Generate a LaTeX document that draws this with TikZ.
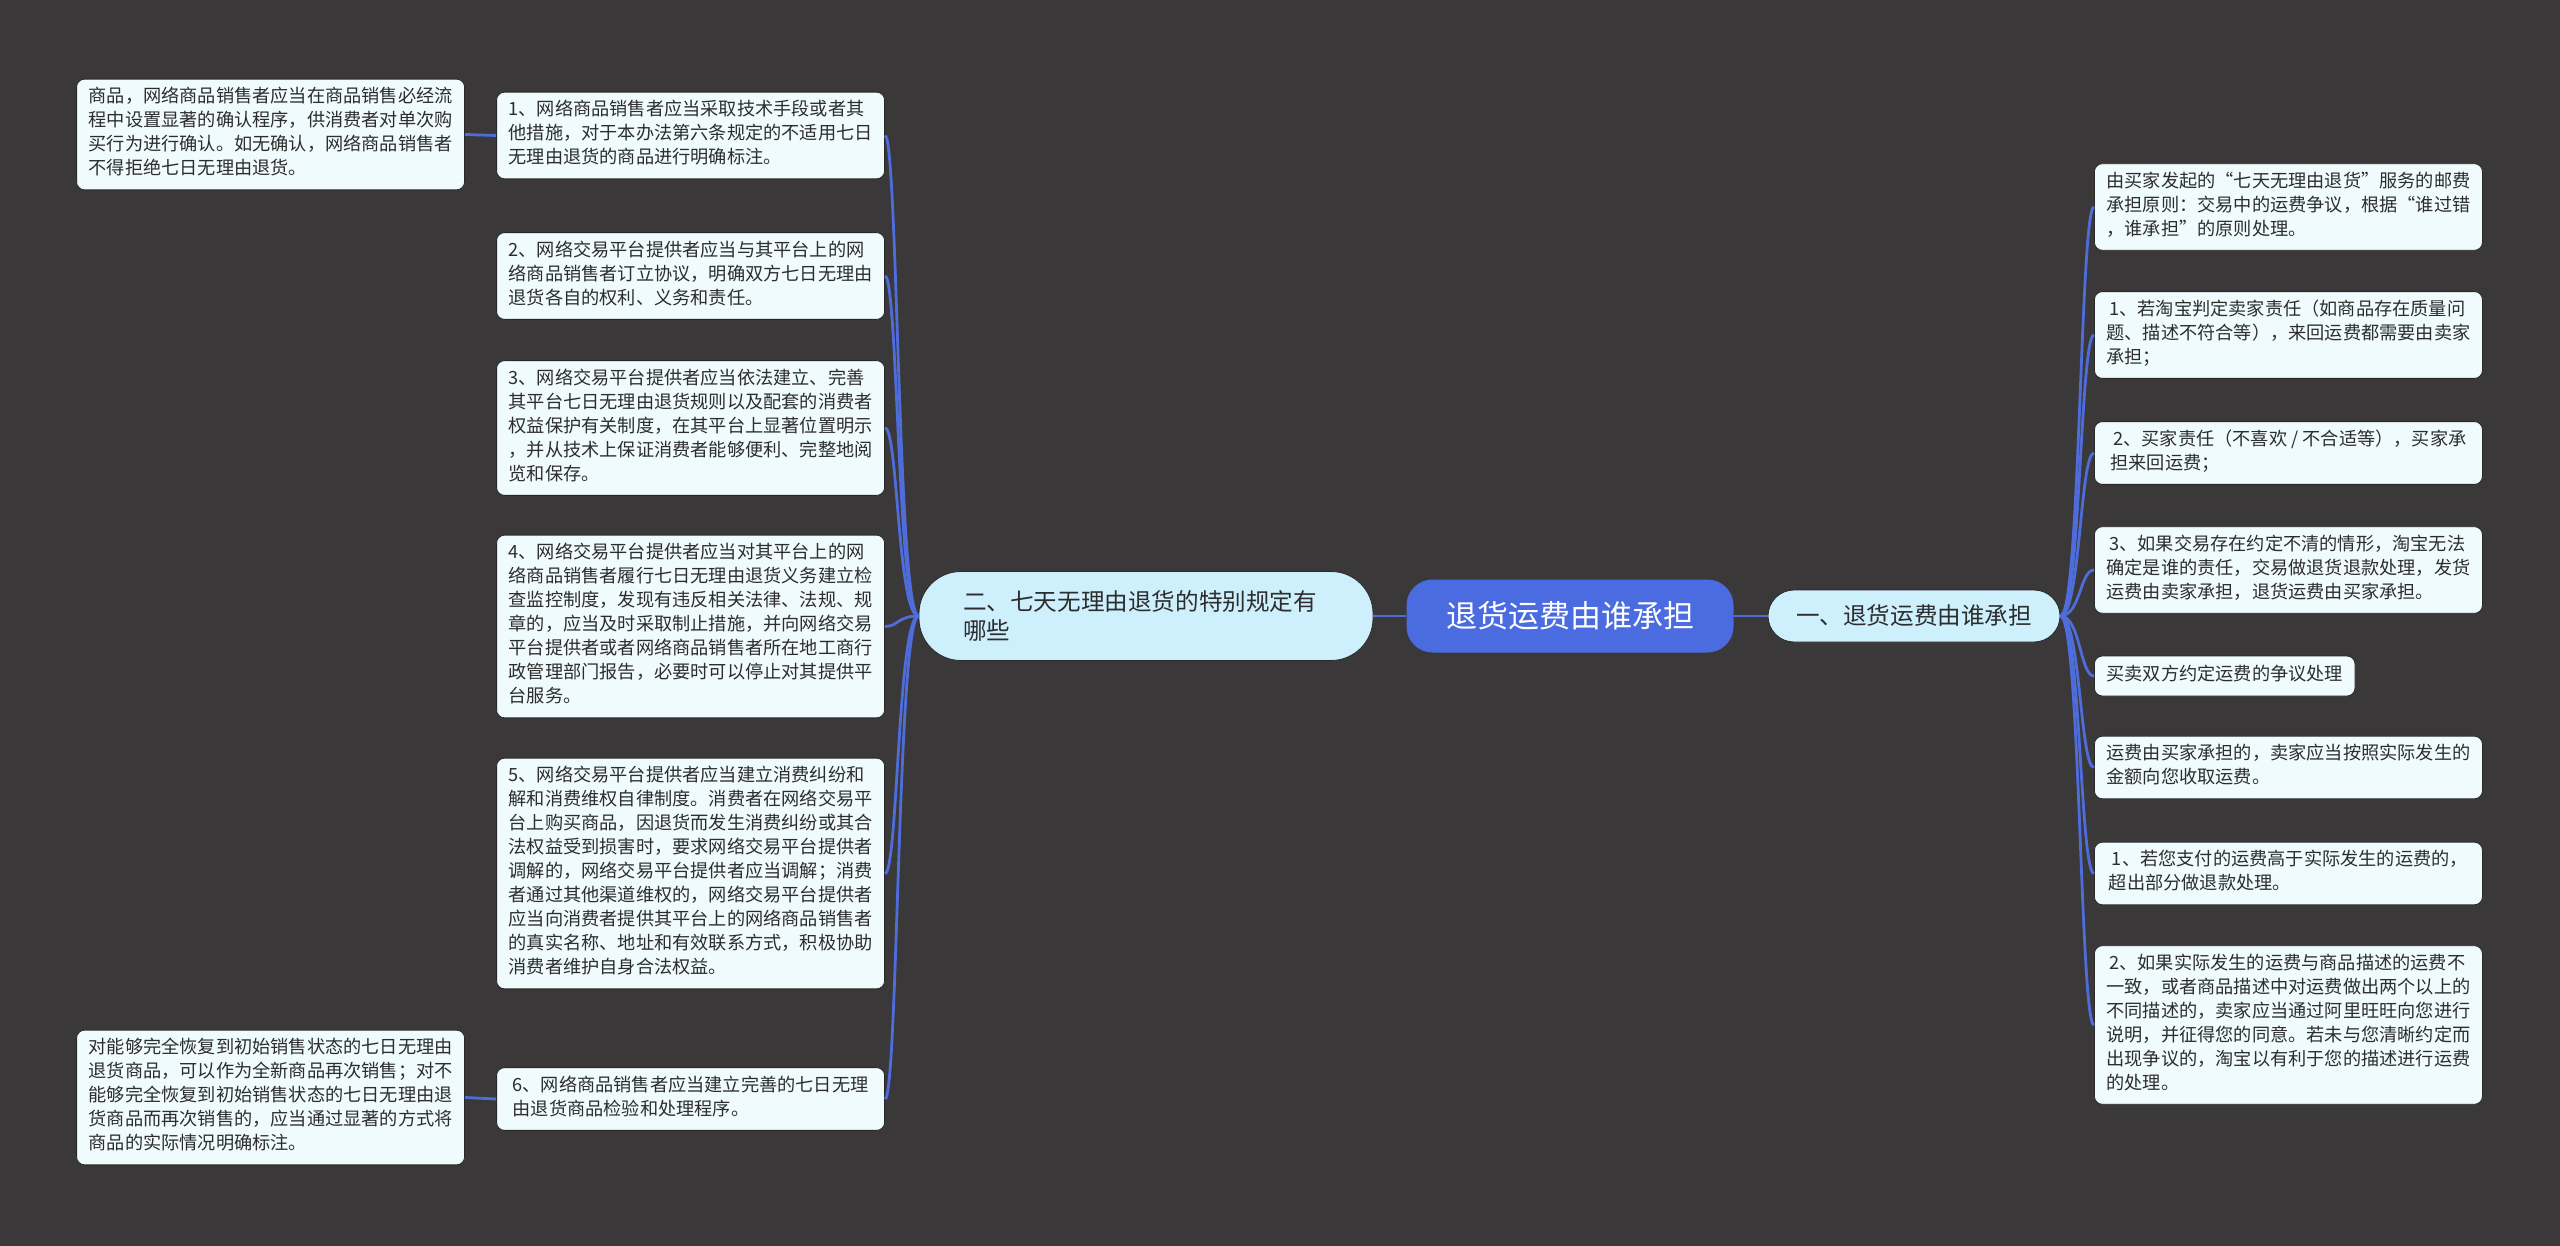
\documentclass[tikz,border=0pt]{standalone}
\usepackage{fontspec}
\newfontfamily\cjk{Noto Sans CJK SC}
\usepackage{tikz}
\definecolor{bgdark}{RGB}{58,56,57}
\definecolor{linkblue}{RGB}{78,108,218}
\definecolor{rootblue}{RGB}{75,107,224}
\definecolor{branchfill}{RGB}{206,239,252}
\definecolor{leaffill}{RGB}{240,251,254}
\definecolor{leafedge}{RGB}{40,40,40}
\definecolor{inktext}{RGB}{45,45,45}

\begin{document}
\begin{tikzpicture}[x=0.5pt, y=-0.5pt,
  link/.style={draw=linkblue, line width=1.4pt},
  leaf/.style={draw=leafedge, line width=0.4pt, fill=leaffill, text=inktext,
    rounded corners=4pt, align=left, minimum width=194pt, inner xsep=6pt, inner ysep=4pt,
    font=\cjk\fontsize{9.1pt}{12pt}\selectfont,
    execute at begin node=\strut, execute at end node=\strut},
  branch/.style={draw=leafedge, line width=0.4pt, fill=branchfill, text=inktext,
    font=\cjk\fontsize{11.8pt}{14.5pt}\selectfont},
  rootbox/.style={fill=rootblue, text=white, rounded corners=13pt,
    minimum width=163.5pt, minimum height=36.5pt,
    font=\cjk\fontsize{15.5pt}{18pt}\selectfont}]
  \fill[bgdark] (0,0) rectangle (2560,1246);
  \useasboundingbox (0,0) rectangle (2560,1246);

  % centre
  \node[rootbox] (root) at (1570,616) {退货运费由谁承担};
  \node[branch, rounded corners=21pt, text width=183pt, align=left, inner xsep=22pt,
    minimum height=44.5pt] (b2) at (1146,616) {二、七天无理由退货的特别规定有\\哪些};
  \node[branch, rounded corners=13pt, minimum width=146pt, minimum height=26pt] (b1)
    at (1914,616) {一、退货运费由谁承担};
  \draw[link] (root.west) -- (b2.east);
  \draw[link] (root.east) -- (b1.west);

  % left side
  \node[leaf, anchor=east] (n1) at (885,135.5) {1、网络商品销售者应当采取技术手段或者其\\他措施，对于本办法第六条规定的不适用七日\\无理由退货的商品进行明确标注。};
  \node[leaf, anchor=east] (n2) at (885,276) {2、网络交易平台提供者应当与其平台上的网\\络商品销售者订立协议，明确双方七日无理由\\退货各自的权利、义务和责任。};
  \node[leaf, anchor=east] (n3) at (885,428) {3、网络交易平台提供者应当依法建立、完善\\其平台七日无理由退货规则以及配套的消费者\\权益保护有关制度，在其平台上显著位置明示\\，并从技术上保证消费者能够便利、完整地阅\\览和保存。};
  \node[leaf, anchor=east] (n4) at (885,626.5) {4、网络交易平台提供者应当对其平台上的网\\络商品销售者履行七日无理由退货义务建立检\\查监控制度，发现有违反相关法律、法规、规\\章的，应当及时采取制止措施，并向网络交易\\平台提供者或者网络商品销售者所在地工商行\\政管理部门报告，必要时可以停止对其提供平\\台服务。};
  \node[leaf, anchor=east] (n5) at (885,873.5) {5、网络交易平台提供者应当建立消费纠纷和\\解和消费维权自律制度。消费者在网络交易平\\台上购买商品，因退货而发生消费纠纷或其合\\法权益受到损害时，要求网络交易平台提供者\\调解的，网络交易平台提供者应当调解；消费\\者通过其他渠道维权的，网络交易平台提供者\\应当向消费者提供其平台上的网络商品销售者\\的真实名称、地址和有效联系方式，积极协助\\消费者维护自身合法权益。};
  \node[leaf, anchor=east] (n6) at (885,1099) {6、网络商品销售者应当建立完善的七日无理\\由退货商品检验和处理程序。};
  \node[leaf, anchor=east] (n1a) at (465,134.5) {商品，网络商品销售者应当在商品销售必经流\\程中设置显著的确认程序，供消费者对单次购\\买行为进行确认。如无确认，网络商品销售者\\不得拒绝七日无理由退货。};
  \node[leaf, anchor=east] (n6a) at (465,1097.5) {对能够完全恢复到初始销售状态的七日无理由\\退货商品，可以作为全新商品再次销售；对不\\能够完全恢复到初始销售状态的七日无理由退\\货商品而再次销售的，应当通过显著的方式将\\商品的实际情况明确标注。};
  \draw[link] (b2.west) .. controls +(-21,0) and +(13,0) .. (n1.east);
  \draw[link] (b2.west) .. controls +(-21,0) and +(13,0) .. (n2.east);
  \draw[link] (b2.west) .. controls +(-21,0) and +(13,0) .. (n3.east);
  \draw[link] (b2.west) .. controls +(-21,0) and +(13,0) .. (n4.east);
  \draw[link] (b2.west) .. controls +(-21,0) and +(13,0) .. (n5.east);
  \draw[link] (b2.west) .. controls +(-21,0) and +(13,0) .. (n6.east);
  \draw[link] (n1.west) -- (n1a.east);
  \draw[link] (n6.west) -- (n6a.east);

  % right side
  \node[leaf, anchor=west] (r1) at (2094,207) {由买家发起的“七天无理由退货”服务的邮费\\承担原则：交易中的运费争议，根据“谁过错\\，谁承担”的原则处理。};
  \node[leaf, anchor=west] (r2) at (2094,335) {\,1、若淘宝判定卖家责任（如商品存在质量问\\题、描述不符合等），来回运费都需要由卖家\\承担；};
  \node[leaf, anchor=west] (r3) at (2094,453) {\,2、买家责任（不喜欢 / 不合适等），买家承\\担来回运费；};
  \node[leaf, anchor=west] (r4) at (2094,570) {\,3、如果交易存在约定不清的情形，淘宝无法\\确定是谁的责任，交易做退货退款处理，发货\\运费由卖家承担，退货运费由买家承担。};
  \node[leaf, anchor=west, minimum width=0pt] (r5) at (2094,676) {买卖双方约定运费的争议处理};
  \node[leaf, anchor=west] (r6) at (2094,767.5) {运费由买家承担的，卖家应当按照实际发生的\\金额向您收取运费。};
  \node[leaf, anchor=west] (r7) at (2094,873.5) {\,1、若您支付的运费高于实际发生的运费的，\\超出部分做退款处理。};
  \node[leaf, anchor=west] (r8) at (2094,1025) {\,2、如果实际发生的运费与商品描述的运费不\\一致，或者商品描述中对运费做出两个以上的\\不同描述的，卖家应当通过阿里旺旺向您进行\\说明，并征得您的同意。若未与您清晰约定而\\出现争议的，淘宝以有利于您的描述进行运费\\的处理。};
  \draw[link] (b1.east) .. controls +(20,0) and +(-14,0) .. (r1.west);
  \draw[link] (b1.east) .. controls +(20,0) and +(-14,0) .. (r2.west);
  \draw[link] (b1.east) .. controls +(20,0) and +(-14,0) .. (r3.west);
  \draw[link] (b1.east) .. controls +(20,0) and +(-14,0) .. (r4.west);
  \draw[link] (b1.east) .. controls +(20,0) and +(-14,0) .. (r5.west);
  \draw[link] (b1.east) .. controls +(20,0) and +(-14,0) .. (r6.west);
  \draw[link] (b1.east) .. controls +(20,0) and +(-14,0) .. (r7.west);
  \draw[link] (b1.east) .. controls +(20,0) and +(-14,0) .. (r8.west);
\end{tikzpicture}
\end{document}
